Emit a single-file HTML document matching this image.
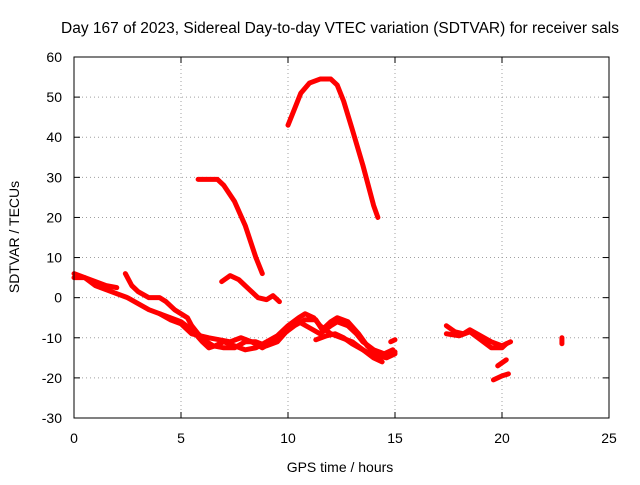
<!DOCTYPE html>
<html><head><meta charset="utf-8"><style>
body{margin:0;background:#fff}
svg text{font-family:"Liberation Sans",sans-serif;font-size:14px;fill:#000}
</style></head><body>
<svg id="chart" width="640" height="480" viewBox="0 0 640 480" xmlns="http://www.w3.org/2000/svg">
<rect width="640" height="480" fill="#fff"/>
<text x="340" y="33" text-anchor="middle" style="font-size:15.5px">Day 167 of 2023, Sidereal Day-to-day VTEC variation (SDTVAR) for receiver sals</text>
<g id="grid"></g>
<g id="ticks"></g>
<g id="series"></g>
<rect x="74" y="57" width="535" height="361" fill="none" stroke="#000"/>
<text x="340" y="472" text-anchor="middle">GPS time / hours</text>
<text transform="translate(19,237) rotate(-90)" text-anchor="middle">SDTVAR / TECUs</text>
</svg>
<script>
const xTicks=[0,5,10,15,20,25];
const yTicks=[-30,-20,-10,0,10,20,30,40,50,60];
const segA=[[5.8,29.5],[6.2,29.5],[6.7,29.5],[7,28],[7.5,24],[8,18],[8.5,10],[8.8,6]];
const segB=[[10,43],[10.3,47],[10.6,51],[11,53.5],[11.5,54.5],[12,54.5],[12.3,53],[12.6,49],[13,42],[13.5,33],[14,23],[14.2,20]];
const segC=[[6.9,4],[7.3,5.5],[7.7,4.5],[8.2,2],[8.6,0],[9,-0.5],[9.3,0.5],[9.6,-1]];
const segD=[[0,5],[0.5,5],[1,3],[1.5,2],[2,1],[2.5,0],[3,-1.5],[3.5,-3],[4,-4],[4.5,-5],[5,-6],[5.5,-8],[6,-11],[6.3,-12.5],[6.6,-12],[7,-11],[7.5,-12],[8,-13],[8.5,-12.5],[9,-11],[9.5,-9.5],[10,-7],[10.5,-5],[10.8,-4],[11.2,-5],[11.5,-7],[12,-9],[12.5,-10],[13,-11],[13.5,-13],[14,-14.5],[14.5,-14],[15,-13.5]];
const segE=[[0,6],[0.5,5],[1,4],[1.5,3],[2,2.5]];
const segF=[[2.4,6],[2.7,3],[3,1.5],[3.5,0],[4,0],[4.3,-1],[4.7,-3],[5,-4],[5.3,-5],[5.5,-7],[5.8,-9],[6.2,-11],[6.5,-12],[7,-12.5],[7.5,-12.5],[8,-11],[8.5,-11],[9,-12],[9.5,-11],[10,-8],[10.5,-6],[11,-7.5],[11.5,-9],[12,-7],[12.3,-6],[12.8,-7],[13.2,-9],[13.5,-11],[14,-13],[14.5,-14],[14.9,-13]];
const segG=[[4,-4],[4.5,-5.5],[5,-6.5],[5.5,-9],[6.3,-10],[6.8,-10.5],[7.3,-11],[7.8,-10],[8.3,-11],[8.8,-12.5],[9.3,-11],[9.8,-9],[10.3,-7],[10.8,-5.5],[11.3,-5.5],[11.6,-8],[12,-6],[12.3,-5],[12.8,-6],[13.3,-9],[13.7,-12],[14.2,-14.5],[14.6,-15],[15,-14]];
const segH=[[11.3,-10.5],[11.8,-9.5],[12.2,-9],[12.6,-10],[13,-11.5],[13.5,-13],[14,-15],[14.4,-16]];
const segI=[[14.8,-11],[15,-10.5]];
const segJ=[[17.4,-7],[17.8,-8.5],[18.2,-9],[18.5,-8],[19,-9.5],[19.5,-11],[20,-12],[20.4,-11]];
const segK=[[17.4,-9],[18,-9.5],[18.5,-8.5],[19,-10.5],[19.5,-12.5],[20,-12.5],[20.2,-11.5]];
const segL=[[19.8,-17],[20.2,-15.5]];
const segM=[[19.6,-20.5],[20,-19.5],[20.3,-19]];
const segN=[[22.8,-10],[22.8,-11.5]];
const segments=[segA,segB,segC,segD,segE,segF,segG,segH,segI,segJ,segK,segL,segM,segN];
const NS="http://www.w3.org/2000/svg";
const X=v=>74+v*(535/25);
const Y=v=>418-(v+30)*(361/90);
const grid=document.getElementById('grid'),ticks=document.getElementById('ticks'),ser=document.getElementById('series');
function mk(t,a,p){const e=document.createElementNS(NS,t);for(const k in a)e.setAttribute(k,a[k]);p.appendChild(e);return e;}
xTicks.forEach(v=>{
 if(v>0&&v<25){const l=mk('line',{x1:X(v),x2:X(v),y1:57,y2:418,stroke:'#a0a0a0','stroke-dasharray':'1,3'},grid);
 
 }
 mk('line',{x1:X(v),x2:X(v),y1:418,y2:412,stroke:'#000'},ticks);
 mk('line',{x1:X(v),x2:X(v),y1:57,y2:63,stroke:'#000'},ticks);
 const t=mk('text',{x:X(v),y:443,'text-anchor':'middle'},ticks);t.textContent=v;
 
 
});
yTicks.forEach(v=>{
 if(v>-30&&v<60){const l=mk('line',{x1:74,x2:609,y1:Y(v),y2:Y(v),stroke:'#a0a0a0','stroke-dasharray':'1,3'},grid);
 
 }
 mk('line',{x1:74,x2:80,y1:Y(v),y2:Y(v),stroke:'#000'},ticks);
 mk('line',{x1:603,x2:609,y1:Y(v),y2:Y(v),stroke:'#000'},ticks);
 const t=mk('text',{x:62,y:Y(v)+5,'text-anchor':'end'},ticks);t.textContent=v;
 
 
});
segments.forEach(s=>{
 const p=mk('polyline',{points:s.map(d=>X(d[0])+','+Y(d[1])).join(' '),fill:'none',stroke:'#ff0000','stroke-width':5,'stroke-linecap':'round','stroke-linejoin':'round'},ser);
 
 
});
</script>
</body></html>
